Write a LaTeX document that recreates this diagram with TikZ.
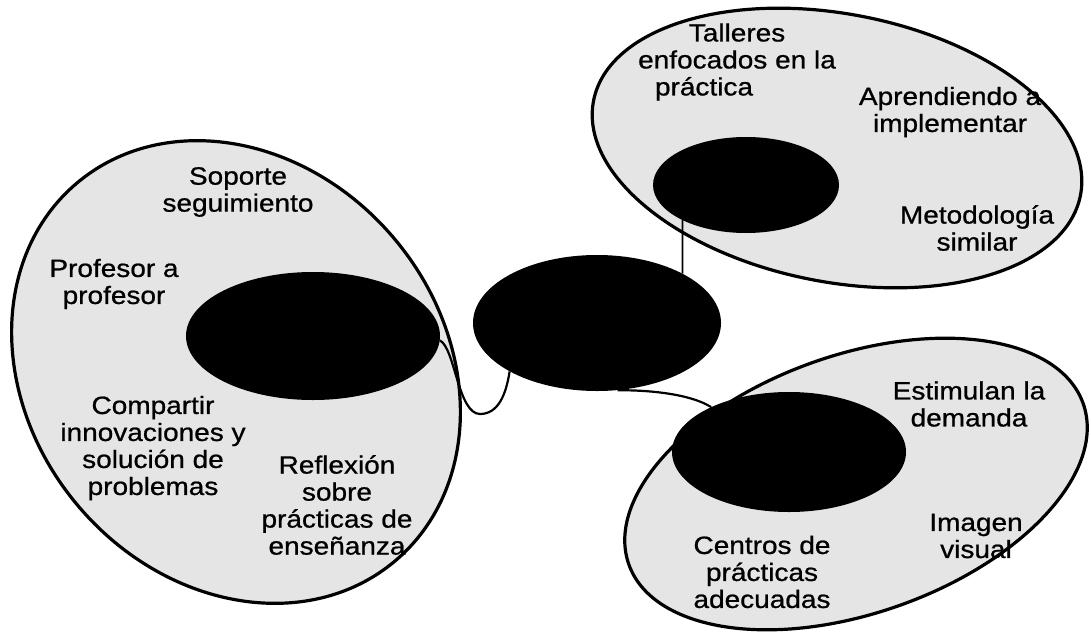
\documentclass[tikz,border=0pt]{standalone}
\usepackage{fontspec}
\setmainfont{Liberation Sans}[FakeStretch=1.12,FakeBold=0.8]
\usetikzlibrary{shapes.geometric}
\begin{document}
\begin{tikzpicture}[x=1pt,y=-1pt,
  outer/.style={ellipse, draw=black, line width=3.2pt, fill=black!10, inner sep=0pt},
  blob/.style={ellipse, fill=black, inner sep=0pt},
  lbl/.style={align=center, font=\fontsize{25}{27}\selectfont, inner sep=0pt, text=black},
  link/.style={draw=black, line width=2.2pt}]
\useasboundingbox (0,0) rectangle (1091,634);
% outer ellipses
\node[outer, minimum width=494pt, minimum height=414pt, rotate=-50] (Lo) at (236,372) {};
\node[outer, minimum width=496pt, minimum height=268pt, rotate=-11] (TRo) at (837,148) {};
\node[outer, minimum width=482pt, minimum height=258pt, rotate=19.5] (BRo) at (856,484) {};
% black ellipses
\node[blob, minimum width=254pt, minimum height=128pt] (Li) at (313,336) {};
\node[blob, minimum width=186pt, minimum height=96pt] (TRi) at (746,185) {};
\node[blob, minimum width=234pt, minimum height=120pt] (BRi) at (789,452) {};
\node[blob, minimum width=248pt, minimum height=136pt] (C) at (597,323) {};
% connectors
\coordinate (dip) at (480,414);
\draw[link] (Li.-2) .. controls (455,348) and (458,414) .. (dip)
  .. controls (498,414) and (506,395) .. (C.209);
\draw[link] (C.-73) .. controls (650,390) and (690,394) .. (BRi.150);
\draw[link, line width=1.8pt] (TRi.209) -- (C.30);
% labels
\node[lbl] (t1) at (238,192) {Soporte\\seguimiento};
\node[lbl] (t2) at (114,284) {Profesor a\\profesor};
\node[lbl] (t3) at (153,448) {Compartir\\innovaciones y\\solución de\\problemas};
\node[lbl] (t4) at (337,505) {Reflexión\\sobre\\prácticas de\\enseñanza};
\node[lbl] (t5) at (737,62) {Talleres\\enfocados en la\\práctica\hspace*{66pt}};
\node[lbl] (t6) at (950,112) {Aprendiendo a\\implementar};
\node[lbl] (t7) at (977,228) {Metodología\\similar};
\node[lbl] (t8) at (969,404) {Estimulan la\\demanda};
\node[lbl] (t9) at (976,536) {Imagen\\visual};
\node[lbl] (t10) at (762,572) {Centros de\\prácticas\\adecuadas};
\end{tikzpicture}
\end{document}
